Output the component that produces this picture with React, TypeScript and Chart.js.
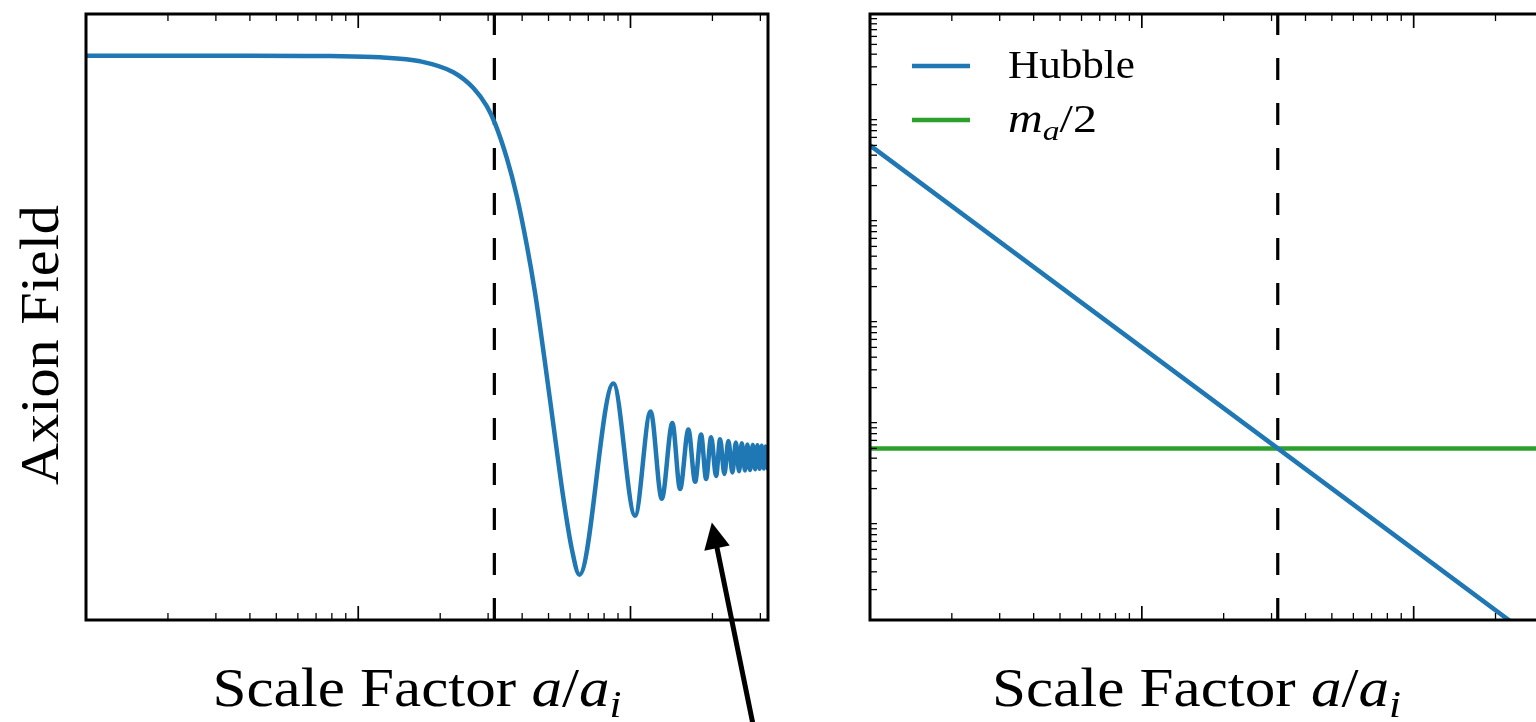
import React, { useEffect, useRef } from "react";
import { Chart, registerables } from "chart.js";

Chart.register(...registerables);

// ---------------- data ----------------
// Left panel: axion field vs scale factor a/a_i (log x)
const scaleFactor = [
  1, 4.0, 7.88, 12.03, 16.87, 22.36, 26.48, 29.66, 31.82, 35.12,
  38.22, 41.59, 44.62, 48.16, 52.09, 56.68, 60.87, 64.92, 86.52, 103.97,
  118.53,
  130.3, 142.5, 152.1, 163.2, 172.8, 181.7, 189.6, 197.8, 206.3, 213.4,
  221.3, 228.9, 236.8, 243.8, 250.6, 256.4, 263.6, 268.8, 275.0, 281.4,
  287.0, 292.6, 297.9, 303.4, 308.7, 313.9, 319.0, 324.0,
];
const axionField = [
  1, 1, 0.999, 0.996, 0.986, 0.959, 0.92, 0.875, 0.832, 0.747,
  0.653, 0.532, 0.413, 0.257, 0.087, -0.094, -0.22, -0.284, 0.189, -0.138,
  0.12,
  -0.096, 0.091, -0.072, 0.075, -0.054, 0.063, -0.047, 0.056, -0.04, 0.051,
  -0.035, 0.047, -0.031, 0.043, -0.028, 0.041, -0.026, 0.038, -0.025, 0.037,
  -0.023, 0.036, -0.022, 0.035, -0.021, 0.033, -0.021, 0.033,
];

// Right panel: Hubble rate and m_a/2 (log-log)
const hubbleA = [1, 10, 100, 320];
const hubbleH = [50000, 500, 5, 0.488];
const massA = [1, 320];
const massHalf = [50, 50];

// Oscillation onset (dashed vertical line), a/a_i
const onsetA = 31.62;

// Axis ranges
const xRange = [1, 320];
const fieldRange = [-0.396, 1.103];
const hubbleRange = [1, 1e6];

// Tick values (no labels shown)
const xMajorTicks = [10, 100];
const xMinorTicks = [2, 3, 4, 5, 6, 7, 8, 9, 20, 30, 40, 50, 60, 70, 80, 90, 200, 300];
const yDecades = [1, 10, 100, 1000, 10000, 100000];
const yMinorSubs = [2, 3, 4, 5, 6, 7, 8, 9];

// Annotation arrow (data coordinates of the left panel)
const arrowTail = { x: 289, y: -0.69 };
const arrowHead = { x: 199, y: -0.155 };

// Texts
const xTitleParts = [
  { t: "Scale Factor " },
  { t: "a", it: true },
  { t: "/" },
  { t: "a", it: true },
  { t: "i", it: true, sub: true },
];
const yTitleParts = [{ t: "Axion Field" }];
const legendLabels = [
  [{ t: "Hubble" }],
  [{ t: "m", it: true }, { t: "a", it: true, sub: true }, { t: "/2" }],
];

const BLUE = "#1f77b4";
const GREEN = "#2ca02c";
const SERIF = '"Liberation Serif", "DejaVu Serif", serif';
const LINE_W = 4.5;

// ---------------- helpers ----------------
type Part = { t: string; it?: boolean; sub?: boolean };

function drawRich(
  ctx: CanvasRenderingContext2D,
  parts: Part[],
  size: number,
  x: number,
  y: number,
  opts: { align: "left" | "center"; width?: number; rotate?: boolean }
) {
  const fonts = parts.map(
    (p) => `${p.it ? "italic " : ""}${p.sub ? Math.round(size * 0.7) : size}px ${SERIF}`
  );
  let total = 0;
  const ws = parts.map((p, i) => {
    ctx.font = fonts[i];
    const w = ctx.measureText(p.t).width;
    total += w;
    return w;
  });
  const sx = opts.width ? opts.width / total : 1;
  ctx.save();
  ctx.translate(x, y);
  if (opts.rotate) ctx.rotate(-Math.PI / 2);
  ctx.scale(sx, 1);
  ctx.fillStyle = "#000";
  ctx.textBaseline = "alphabetic";
  ctx.textAlign = "left";
  let cx = opts.align === "center" ? -total / 2 : 0;
  parts.forEach((p, i) => {
    ctx.font = fonts[i];
    ctx.fillText(p.t, cx, p.sub ? size * 0.2 : 0);
    cx += ws[i];
  });
  ctx.restore();
}

function seg(ctx: CanvasRenderingContext2D, x1: number, y1: number, x2: number, y2: number, w: number) {
  ctx.lineWidth = w;
  ctx.beginPath();
  ctx.moveTo(x1, y1);
  ctx.lineTo(x2, y2);
  ctx.stroke();
}

function drawDashed(chart: any) {
  const { ctx, chartArea, scales } = chart;
  const px = scales.x.getPixelForValue(onsetA);
  ctx.save();
  ctx.strokeStyle = "#000";
  ctx.setLineDash([22, 23]);
  seg(ctx, px, chartArea.bottom, px, chartArea.top, 3.2);
  ctx.restore();
}

function drawFrame(chart: any, withYTicks: boolean) {
  const { ctx, chartArea, scales } = chart;
  const { left, right, top, bottom } = chartArea;
  ctx.save();
  ctx.strokeStyle = "#000";
  ctx.setLineDash([]);
  for (const v of xMajorTicks) {
    const px = scales.x.getPixelForValue(v);
    seg(ctx, px, bottom, px, bottom - 14, 1.7);
    seg(ctx, px, top, px, top + 14, 1.7);
  }
  for (const v of xMinorTicks) {
    const px = scales.x.getPixelForValue(v);
    seg(ctx, px, bottom, px, bottom - 7, 1.3);
    seg(ctx, px, top, px, top + 7, 1.3);
  }
  if (withYTicks) {
    for (const d of yDecades) {
      for (const s of yMinorSubs) {
        const py = scales.y.getPixelForValue(d * s);
        seg(ctx, left, py, left + 7, py, 1.3);
        seg(ctx, right, py, right - 7, py, 1.3);
      }
    }
  }
  ctx.lineWidth = 3;
  ctx.strokeRect(left, top, right - left, bottom - top);
  ctx.restore();
}

const leftDecor = {
  id: "leftDecor",
  beforeDatasetsDraw(chart: any) {
    drawDashed(chart);
  },
  afterDatasetsDraw(chart: any) {
    const { ctx, chartArea, scales } = chart;
    drawFrame(chart, false);
    const cx = (chartArea.left + chartArea.right) / 2;
    const cy = (chartArea.top + chartArea.bottom) / 2;
    drawRich(ctx, xTitleParts, 54, cx - 10, chartArea.bottom + 86, { align: "center", width: 409 });
    drawRich(ctx, yTitleParts, 54, chartArea.left - 28, cy + 28, { align: "center", width: 280, rotate: true });
    // arrow
    const x1 = scales.x.getPixelForValue(arrowTail.x);
    const y1 = scales.y.getPixelForValue(arrowTail.y);
    const x2 = scales.x.getPixelForValue(arrowHead.x);
    const y2 = scales.y.getPixelForValue(arrowHead.y);
    const L = Math.hypot(x2 - x1, y2 - y1);
    const ux = (x2 - x1) / L;
    const uy = (y2 - y1) / L;
    const hl = 26;
    const hw = 13;
    const bx = x2 - ux * hl;
    const by = y2 - uy * hl;
    ctx.save();
    ctx.strokeStyle = "#000";
    ctx.fillStyle = "#000";
    seg(ctx, x1, y1, bx + ux * 2, by + uy * 2, 5);
    ctx.beginPath();
    ctx.moveTo(x2, y2);
    ctx.lineTo(bx - uy * hw, by + ux * hw);
    ctx.lineTo(bx + uy * hw, by - ux * hw);
    ctx.closePath();
    ctx.fill();
    ctx.restore();
  },
};

const rightDecor = {
  id: "rightDecor",
  beforeDatasetsDraw(chart: any) {
    drawDashed(chart);
  },
  afterDatasetsDraw(chart: any) {
    const { ctx, chartArea } = chart;
    drawFrame(chart, true);
    const cx = (chartArea.left + chartArea.right) / 2;
    drawRich(ctx, xTitleParts, 54, cx - 14, chartArea.bottom + 86, { align: "center", width: 409 });
    // legend
    const colors = [BLUE, GREEN];
    const rows = [52, 106];
    const widths = [127, 89];
    ctx.save();
    legendLabels.forEach((parts, i) => {
      ctx.strokeStyle = colors[i];
      seg(ctx, chartArea.left + 42, chartArea.top + rows[i], chartArea.left + 100, chartArea.top + rows[i], LINE_W);
      drawRich(ctx, parts as Part[], 40, chartArea.left + 138, chartArea.top + rows[i] + 12, {
        align: "left",
        width: widths[i],
      });
    });
    ctx.restore();
  },
};

function leftConfig(): any {
  return {
    type: "line",
    data: {
      datasets: [
        {
          label: "Axion Field",
          data: scaleFactor.map((a, i) => ({ x: a, y: axionField[i] })),
          borderColor: BLUE,
          borderWidth: LINE_W,
          pointRadius: 0,
          cubicInterpolationMode: "monotone",
          fill: false,
          clip: 0,
        },
      ],
    },
    options: {
      animation: false,
      responsive: false,
      events: [],
      layout: { padding: { left: 86, right: 32, top: 14, bottom: 102 } },
      plugins: { legend: { display: false }, tooltip: { enabled: false } },
      scales: {
        x: { type: "logarithmic", min: xRange[0], max: xRange[1], display: false },
        y: { type: "linear", min: fieldRange[0], max: fieldRange[1], display: false },
      },
    },
    plugins: [leftDecor],
  };
}

function rightConfig(): any {
  return {
    type: "line",
    data: {
      datasets: [
        {
          label: "Hubble",
          data: hubbleA.map((a, i) => ({ x: a, y: hubbleH[i] })),
          borderColor: BLUE,
          borderWidth: LINE_W,
          pointRadius: 0,
          fill: false,
          clip: 0,
        },
        {
          label: "m_a/2",
          data: massA.map((a, i) => ({ x: a, y: massHalf[i] })),
          borderColor: GREEN,
          borderWidth: LINE_W,
          pointRadius: 0,
          fill: false,
          clip: 0,
        },
      ],
    },
    options: {
      animation: false,
      responsive: false,
      events: [],
      layout: { padding: { left: 50, right: 29, top: 14, bottom: 102 } },
      plugins: { legend: { display: false }, tooltip: { enabled: false } },
      scales: {
        x: { type: "logarithmic", min: xRange[0], max: xRange[1], display: false },
        y: { type: "logarithmic", min: hubbleRange[0], max: hubbleRange[1], display: false },
      },
    },
    plugins: [rightDecor],
  };
}

export default function App() {
  const leftRef = useRef<HTMLCanvasElement>(null);
  const rightRef = useRef<HTMLCanvasElement>(null);
  useEffect(() => {
    const c1 = new Chart(leftRef.current as HTMLCanvasElement, leftConfig());
    const c2 = new Chart(rightRef.current as HTMLCanvasElement, rightConfig());
    return () => {
      c1.destroy();
      c2.destroy();
    };
  }, []);
  return (
    <div
      style={{
        position: "fixed",
        left: 0,
        top: 0,
        width: 1536,
        height: 722,
        overflow: "hidden",
        background: "#fff",
      }}
    >
      <canvas
        ref={leftRef}
        width={800}
        height={722}
        style={{ position: "absolute", left: 0, top: 0, width: 800, height: 722 }}
      />
      <canvas
        ref={rightRef}
        width={760}
        height={722}
        style={{ position: "absolute", left: 820, top: 0, width: 760, height: 722 }}
      />
    </div>
  );
}
